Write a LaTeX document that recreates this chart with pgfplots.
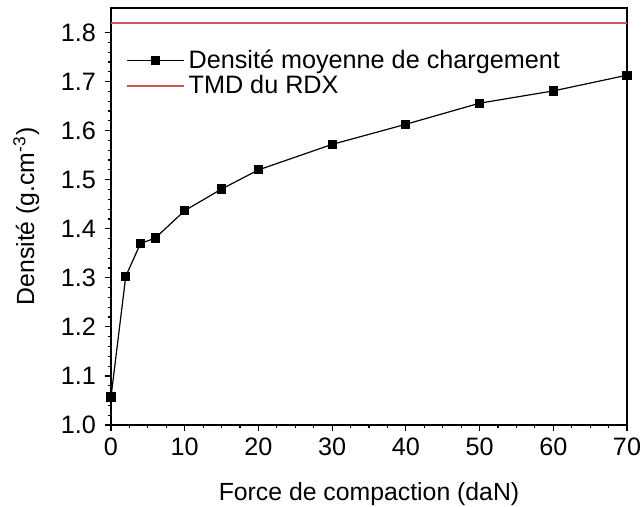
\documentclass[border=0pt]{standalone}
\usepackage{fontspec}
\setmainfont{Liberation Sans}
\usepackage{pgfplots}
\pgfplotsset{compat=1.18}
\definecolor{tmdred}{RGB}{205,85,85}
\begin{document}
\begin{tikzpicture}
\begin{axis}[
    scale only axis,
    width=258pt, height=208.5pt,
    xmin=0, xmax=70, ymin=1.0, ymax=1.85,
    xtick={0,10,...,70},
    ytick={1.0,1.1,1.2,1.3,1.4,1.5,1.6,1.7,1.8},
    minor x tick num=3, minor y tick num=4,
    tick align=outside, tick pos=left,
    major tick length=3pt, minor tick length=1.6pt,
    axis line style={line width=0.7pt},
    every tick/.style={black, line width=0.6pt},
    yticklabel style={xshift=-1pt, /pgf/number format/.cd, fixed, fixed zerofill, precision=1},
    /pgf/number format/assume math mode=true,
    tick label style={font=\fontsize{12.6}{14}\selectfont},
    label style={font=\fontsize{12.4}{14}\selectfont},
    xlabel={Force de compaction (daN)},
    ylabel={Densité (g.cm\textsuperscript{-3})},
    xlabel style={yshift=-6.5pt},
    ylabel style={yshift=4pt},
    legend style={draw=none, fill=none, at={(0.017,0.92)}, anchor=north west,
        font=\fontsize{12.6}{14}\selectfont, row sep=-2pt},
    legend cell align=left,
    legend image code/.code={
        \draw[mark repeat=2,mark phase=2,#1] plot coordinates {(0cm,0cm) (0.5cm,0cm) (1cm,0cm)};
    },
]
\addplot[black, line width=0.6pt, mark=square*, mark size=2.0pt] coordinates {
(0,1.057) (2,1.303) (4,1.370) (6,1.381) (10,1.437) (15,1.481) (20,1.520)
(30,1.572) (40,1.613) (50,1.656) (60,1.681) (70,1.713)
};
\addlegendentry{Densité moyenne de chargement}
\addplot[tmdred, line width=0.8pt] coordinates {(0,1.82) (70,1.82)};
\addlegendentry{TMD du RDX}
\end{axis}
\pgfresetboundingbox
\useasboundingbox ([xshift=-55.5pt, yshift=-40.5pt]current axis.south west)
    rectangle ([xshift=7.5pt, yshift=4pt]current axis.north east);
\end{tikzpicture}
\end{document}
